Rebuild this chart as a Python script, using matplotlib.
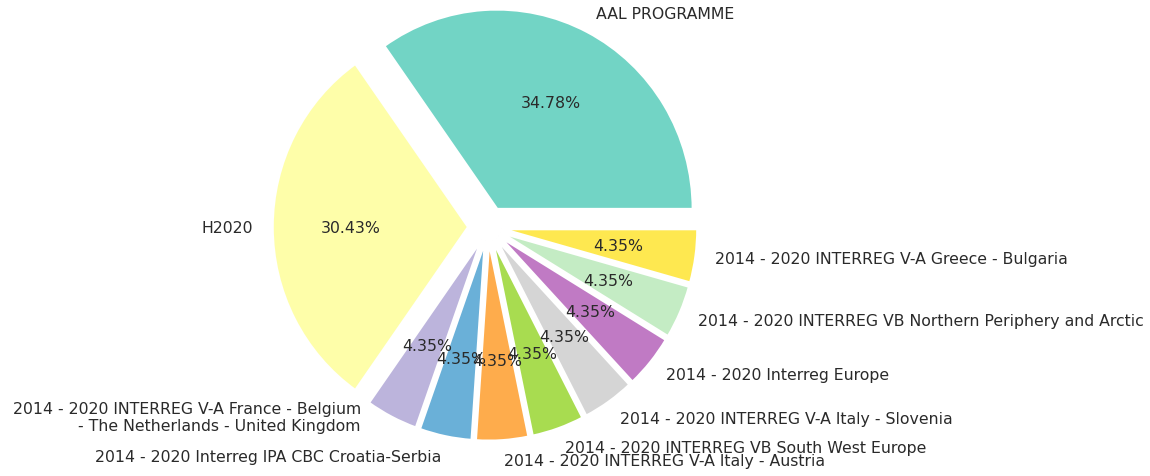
import matplotlib
matplotlib.use('agg')
import matplotlib.pyplot as plt

programmes = [
    'AAL PROGRAMME',
    'H2020',
    '2014 - 2020 INTERREG V-A France - Belgium\n- The Netherlands - United Kingdom',
    '2014 - 2020 Interreg IPA CBC Croatia-Serbia',
    '2014 - 2020 INTERREG V-A Italy - Austria',
    '2014 - 2020 INTERREG VB South West Europe',
    '2014 - 2020 INTERREG V-A Italy - Slovenia',
    '2014 - 2020 Interreg Europe',
    '2014 - 2020 INTERREG VB Northern Periphery and Arctic',
    '2014 - 2020 INTERREG V-A Greece - Bulgaria',
]
projects = [8, 7, 1, 1, 1, 1, 1, 1, 1, 1]
colours = ['#72d4c5', '#fefea9', '#bcb4dc', '#6ab0d8', '#feac4c',
           '#a8dc50', '#d5d5d5', '#c07ac4', '#c4ecc4', '#fee850']

W, H = 1150, 477
cx, cy = 488, 228   # pie centre, px from left / top
rx, ry = 196, 200   # px per data unit (screenshot is slightly stretched)

fig = plt.figure(figsize=(W / 100, H / 100), dpi=100)
ax = fig.add_axes([0, 0, 1, 1])

# big slices pulled out more than the small ones
explode = [0.1, 0.1] + [0.07] * (len(projects) - 2)
wedges, texts, autotexts = ax.pie(
    projects, labels=programmes, colors=colours, explode=explode,
    autopct='%1.2f%%', startangle=0,
    wedgeprops={'edgecolor': 'white', 'linewidth': 2},
    textprops={'fontsize': 11.3, 'color': '#2a2a2a'})

# the two-line label sits a bit higher/left in the original
x, y = texts[2].get_position()
texts[2].set_position((x - 0.11, y + 0.09))

ax.set_aspect('auto')
ax.set_xlim(-cx / rx, (W - cx) / rx)
ax.set_ylim(-(H - cy) / ry, cy / ry)
ax.axis('off')

plt.savefig('out.png', dpi=100)
